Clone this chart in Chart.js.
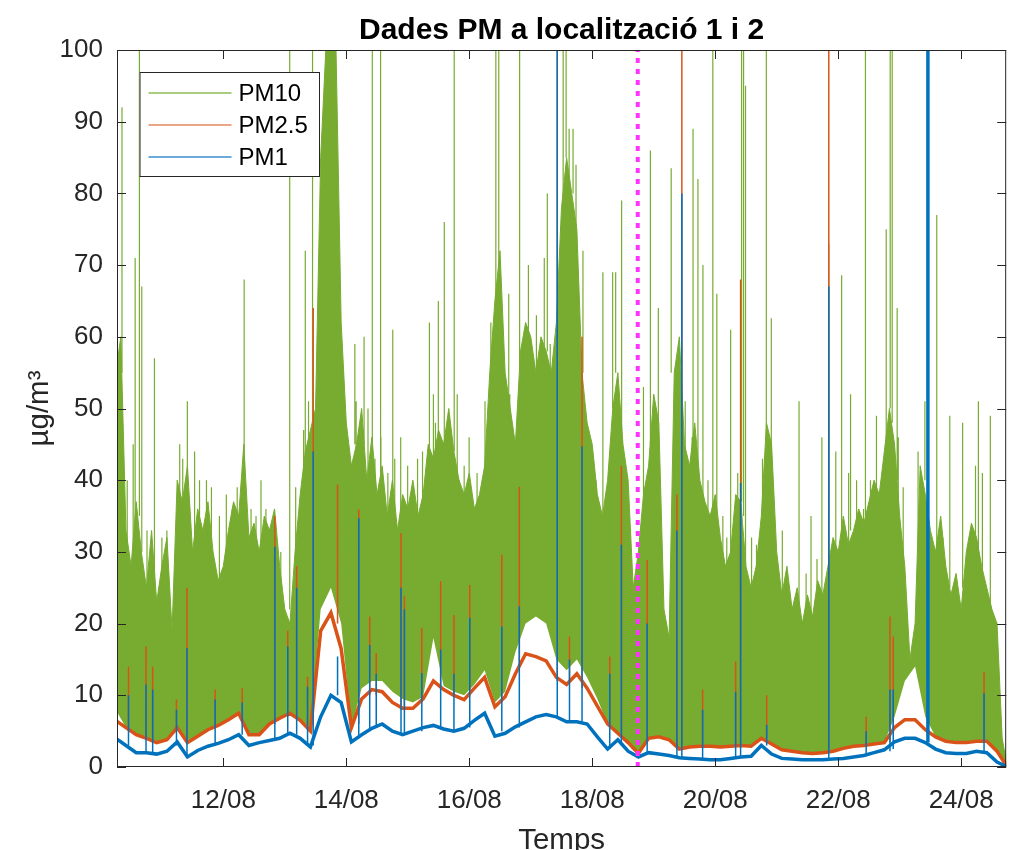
<!DOCTYPE html>
<html>
<head>
<meta charset="utf-8">
<title>Dades PM a localització 1 i 2</title>
<script src="https://cdn.jsdelivr.net/npm/chart.js@4.4.1/dist/chart.umd.min.js"></script>
<style>
  html, body { margin: 0; padding: 0; background: #fff; }
  #wrap { width: 1012px; height: 850px; }
</style>
</head>
<body>
<div id="wrap"><canvas id="pmChart" width="1012" height="850"></canvas></div>
<script>
// Eix temporal en dies d'agost (10.25 = 10/08 a les 06:00)
const startDay = 10.25;
const stepTop = 1 / 12;   // 2 h
const stepBase = 1 / 6;   // 4 h
const xMin = 10.271;
const xMax = 24.732;
const switchDay = 18.74;  // canvi de localització (línia magenta)

const tickDays = [12, 14, 16, 18, 20, 22, 24];
const tickLabels = ['12/08', '14/08', '16/08', '18/08', '20/08', '22/08', '24/08'];

// PM10: vora superior de la banda densa (cada 2 h)
const pm10Top = [
  55, 60, 33, 28, 37, 30, 25, 33, 23, 28, 32, 19,
  40, 37, 42, 30, 36, 33, 37, 30, 26, 28, 33, 37,
  35, 45, 32, 34, 30, 35, 33, 36, 28, 22, 20, 30,
  38, 44, 47, 50, 85, 100, 100, 100, 62, 48, 42, 45,
  50, 40, 46, 38, 42, 35, 40, 33, 38, 36, 40, 35,
  38, 45, 43, 47, 45, 50, 44, 40, 38, 41, 36, 38,
  42, 55, 65, 72, 55, 50, 45, 58, 62, 60, 55, 60,
  58, 55, 62, 78, 85, 80, 75, 55, 48, 45, 38, 35,
  40, 50, 55, 45, 40, 25, 30, 38, 42, 52, 48, 22,
  18, 55, 60, 45, 42, 48, 40, 37, 35, 38, 32, 28,
  30, 38, 37, 28, 25, 28, 35, 48, 45, 30, 24, 28,
  22, 25, 20, 24, 21, 26, 24, 28, 32, 30, 35, 31,
  33, 36, 34, 37, 40, 38, 44, 50, 45, 35, 28, 15,
  20, 42, 38, 33, 30, 35, 28, 24, 27, 22, 30, 34,
  32, 28, 25, 22, 20, 4, 0
];

// PM10: vora inferior de la banda (cada 4 h)
const pm10Low = [
  8, 5.5, 4.5, 4.0, 3.4, 3.8,
  5.5, 3.4, 4.3, 5.2, 5.8, 6.6,
  7.5, 4.5, 4.5, 6.0, 6.8, 7.5,
  6.5, 5.0, 22, 25, 20, 5.5,
  11, 12, 12, 10.5, 9.5, 9.0,
  9.8, 18, 11.3, 10.5, 10, 11.5,
  13.5, 9, 10.5, 16, 20, 21,
  20, 15, 13.5, 15, 12.5, 9.5,
  6.0, 4.7, 3.4, 1.9, 4.0, 4.2,
  3.8, 2.5, 2.8, 2.9, 2.9, 2.8,
  2.9, 3.0, 2.9, 4.0, 3.2, 2.4,
  2.2, 2.0, 1.9, 2.0, 2.2, 2.6,
  2.9, 3.0, 3.2, 3.4, 7, 12,
  14, 7, 4.2, 3.6, 3.4, 3.4,
  3.6, 3.6, 2.2, 0
];

// PM2.5 (cada 4 h)
const pm25 = [
  6.5, 5.5, 4.5, 4.0, 3.4, 3.8,
  5.5, 3.4, 4.3, 5.2, 5.8, 6.6,
  7.5, 4.5, 4.5, 6.0, 6.8, 7.5,
  6.5, 5.0, 19.0, 21.5, 16.5, 5.5,
  9.5, 10.8, 10.5, 9.0, 8.2, 8.2,
  9.5, 12.0, 10.8, 10.0, 9.4, 11.0,
  12.5, 8.4, 9.8, 13.0, 15.8, 15.4,
  14.8, 12.5, 11.5, 13.0, 11.0, 8.5,
  6.0, 4.7, 3.4, 1.9, 4.0, 4.2,
  3.8, 2.5, 2.8, 2.9, 2.9, 2.8,
  2.9, 3.0, 2.9, 4.0, 3.2, 2.4,
  2.2, 2.0, 1.9, 2.0, 2.2, 2.6,
  2.9, 3.0, 3.2, 3.4, 5.5, 6.6,
  6.6, 5.2, 4.2, 3.6, 3.4, 3.4,
  3.6, 3.6, 2.2, 0
];

// PM1 (cada 4 h)
const pm1 = [
  4.0, 3.0, 2.0, 2.0, 1.8, 2.2,
  3.5, 1.4, 2.3, 2.9, 3.3, 3.8,
  4.5, 3.0, 3.4, 3.7, 4.0, 4.7,
  4.0, 2.8, 7.0, 10.0, 9.0, 3.5,
  4.5, 5.4, 6.0, 5.0, 4.5, 5.0,
  5.5, 5.8, 5.3, 5.0, 5.4, 6.5,
  7.5, 4.3, 4.7, 5.6, 6.3, 7.0,
  7.3, 7.0, 6.3, 6.3, 6.0, 4.2,
  2.5, 3.8, 2.2, 1.4, 2.0, 1.8,
  1.6, 1.3, 1.2, 1.1, 1.0, 1.0,
  1.2, 1.4, 1.5, 3.0, 1.8, 1.2,
  1.1, 1.0, 1.0, 1.0, 1.1, 1.2,
  1.4, 1.6, 2.0, 2.4, 3.5, 4.0,
  4.0, 3.4, 2.5, 2.0, 1.9, 1.9,
  2.2, 2.0, 0.7, 0
];

// Pics aïllats: [dia, des de, fins a]
const pm10Spikes = [
  [10.352, 55, 92], [10.437, 20, 40], [10.534, 20, 45], [10.566, 30, 71],
  [10.635, 35, 100], [10.674, 30, 67], [10.759, 20, 33], [10.880, 25, 57],
  [11.001, 20, 32], [11.082, 20, 33], [11.291, 25, 45], [11.340, 25, 43],
  [11.415, 40, 51], [11.533, 25, 44], [11.613, 25, 40], [11.726, 25, 40],
  [11.807, 25, 39], [11.936, 20, 35], [12.049, 20, 38], [12.145, 25, 36],
  [12.226, 25, 39], [12.339, 40, 68], [12.451, 20, 36], [12.532, 20, 35],
  [12.613, 20, 40], [12.693, 20, 36], [12.790, 20, 33], [12.935, 20, 30],
  [13.080, 22, 100], [13.177, 20, 39], [13.306, 25, 47], [13.333, 40, 72],
  [13.386, 30, 51], [13.451, 45, 100], [14.031, 30, 43], [14.139, 45, 59],
  [14.160, 30, 51], [14.272, 30, 47], [14.289, 45, 60], [14.353, 30, 50],
  [14.423, 45, 100], [14.466, 30, 43], [14.558, 40, 100], [14.563, 30, 46],
  [14.676, 30, 41], [14.756, 35, 61], [14.788, 30, 43], [14.885, 30, 46],
  [14.998, 30, 42], [15.079, 25, 39], [15.159, 25, 43], [15.240, 25, 44],
  [15.352, 43, 62], [15.417, 43, 52], [15.450, 30, 48], [15.497, 45, 65],
  [15.594, 45, 76], [15.675, 30, 48], [15.755, 44, 100], [15.804, 40, 52],
  [15.836, 30, 40], [15.917, 30, 42], [15.998, 30, 46], [16.127, 30, 41],
  [16.207, 30, 37], [16.256, 30, 51], [16.351, 50, 62], [16.432, 65, 100],
  [16.480, 70, 100], [16.642, 50, 66], [16.659, 35, 52], [16.819, 55, 100],
  [16.962, 60, 70], [17.092, 55, 63], [17.220, 58, 71], [17.269, 58, 80],
  [17.317, 55, 59], [17.527, 78, 100], [17.575, 85, 100], [17.624, 80, 89],
  [17.688, 80, 89], [17.736, 75, 84], [17.849, 55, 72], [17.900, 30, 47],
  [17.981, 25, 35], [18.061, 25, 40], [18.173, 35, 69], [18.271, 25, 41],
  [18.332, 50, 69], [18.381, 55, 69], [18.478, 45, 79], [18.593, 20, 35],
  [18.833, 38, 53], [18.946, 45, 86], [18.980, 30, 46], [19.075, 48, 64],
  [19.284, 55, 83.5], [19.350, 30, 43], [19.512, 30, 51], [19.624, 30, 46],
  [19.639, 45, 89], [19.719, 40, 82], [19.800, 37, 70], [19.882, 25, 40],
  [19.961, 35, 100], [20.026, 35, 66], [20.124, 20, 35], [20.188, 20, 32],
  [20.251, 30, 61], [20.366, 25, 41], [20.429, 37, 100], [20.461, 35, 100],
  [20.493, 28, 95], [20.591, 20, 32], [20.672, 20, 31], [20.769, 25, 43],
  [20.831, 45, 100], [20.912, 40, 62.6], [21.091, 20, 33], [21.171, 20, 26],
  [21.363, 22, 51], [21.478, 20, 27], [21.558, 20, 35], [21.655, 20, 29],
  [21.735, 20, 46], [21.847, 28, 73], [21.961, 25, 44], [22.056, 30, 68.6],
  [22.170, 25, 41], [22.201, 33, 52], [22.299, 25, 40], [22.412, 25, 36],
  [22.443, 35, 100], [22.525, 25, 40], [22.622, 30, 49], [22.781, 40, 75],
  [22.846, 50, 100], [22.878, 48, 100], [22.959, 40, 64], [22.977, 30, 46],
  [23.057, 25, 39], [23.299, 30, 44], [23.410, 40, 51], [23.603, 30, 77],
  [23.702, 25, 32], [23.815, 25, 49], [24.024, 25, 48], [24.233, 25, 42],
  [24.280, 28, 51], [24.345, 25, 41], [24.474, 20, 49]
];

const pm25Spikes = [
  [10.458, 5, 14], [10.743, 4, 16.8], [10.851, 4, 14], [11.238, 5, 9.4],
  [11.409, 3.5, 25], [11.867, 5.5, 10.8], [12.307, 7.5, 11], [12.838, 6, 35],
  [13.048, 7, 19], [13.193, 7, 28], [13.370, 6, 12.6], [13.462, 6, 64],
  [13.858, 20, 39.4], [14.203, 6, 35.9], [14.381, 10, 21], [14.487, 10, 15.9],
  [14.890, 8, 32.6], [14.945, 8, 23.8], [15.228, 9, 19.4], [15.535, 11, 25.9],
  [15.751, 10, 21.2], [16.008, 10, 25.4], [16.529, 9, 29.6], [16.814, 14, 39.1],
  [17.431, 12, 100], [17.630, 12, 18.2], [17.834, 11, 60], [18.285, 6, 15.4],
  [18.474, 5, 42], [18.893, 4, 28.9], [19.377, 3, 38], [19.457, 3, 100],
  [19.795, 3, 10.8], [20.332, 3, 14.7], [20.413, 3, 68], [20.837, 4, 10],
  [21.847, 2, 100], [22.455, 3, 7], [22.842, 3.5, 21], [22.895, 5, 18.2],
  [23.459, 6, 100], [24.372, 3.6, 13.3]
];

const pm1Spikes = [
  [10.458, 3, 10], [10.743, 2, 11.5], [10.851, 2, 10.8], [11.238, 3, 8],
  [11.409, 1.5, 16.6], [11.867, 3, 9.4], [12.307, 4.5, 9], [12.838, 4, 30.7],
  [13.048, 4.5, 16.8], [13.193, 4.5, 25], [13.370, 3, 11.2], [13.462, 3, 44],
  [13.858, 10, 15.4], [14.203, 4, 34.7], [14.381, 5, 17], [14.487, 5.5, 13],
  [14.890, 4.5, 25], [14.945, 4.5, 22], [15.228, 5, 13.1], [15.535, 5.5, 16.4],
  [15.751, 5, 13], [16.008, 5.5, 20.8], [16.529, 5, 19.6], [16.814, 5.5, 22.4],
  [17.431, 7, 100], [17.630, 6.5, 15], [17.834, 6, 44.7], [18.285, 2.5, 13],
  [18.474, 3, 31], [18.893, 2, 20], [19.377, 1.3, 33], [19.457, 1.2, 80],
  [19.795, 1.1, 8], [20.332, 1.2, 10.5], [20.413, 1.3, 39.6], [20.837, 3, 5.9],
  [21.847, 1, 67], [22.455, 1.5, 5], [22.842, 2.2, 10.8], [22.895, 2.5, 10.8],
  [23.443, 3.5, 100], [23.459, 3.4, 100], [23.475, 3.4, 100], [24.372, 2, 10.3]
];

const green = '#77ac30';
const orange = '#d95319';
const blue = '#0072bd';
const magenta = '#ff33ff';
const axisColor = '#262626';
const fontFamily = "'Liberation Sans', Arial, Helvetica, sans-serif";

// sèrie regular -> punts {x, y}
function seq(vals, step) {
    return vals.map((v, i) => ({ x: startDay + i * step, y: v }));
}

// pics -> segments verticals separats per buits
function bars(spikes) {
    const pts = [];
    spikes.forEach(([d, a, b]) => {
        pts.push({ x: d, y: a }, { x: d, y: b }, { x: d, y: null });
    });
    return pts;
}

// Marc de la gràfica amb marques cap a dins (estil MATLAB)
const framePlugin = {
    id: 'frame',
    afterDatasetsDraw(chart) {
        const { ctx, chartArea: a, scales } = chart;
        ctx.save();
        ctx.strokeStyle = axisColor;
        ctx.lineWidth = 1;
        ctx.strokeRect(a.left + 0.5, a.top + 0.5, a.right - a.left - 1, a.bottom - a.top - 1);
        ctx.beginPath();
        scales.x.ticks.forEach(t => {
            const px = Math.round(scales.x.getPixelForValue(t.value)) + 0.5;
            ctx.moveTo(px, a.bottom); ctx.lineTo(px, a.bottom - 9);
            ctx.moveTo(px, a.top); ctx.lineTo(px, a.top + 9);
        });
        scales.y.ticks.forEach(t => {
            const py = Math.round(scales.y.getPixelForValue(t.value)) + 0.5;
            ctx.moveTo(a.left, py); ctx.lineTo(a.left + 9, py);
            ctx.moveTo(a.right, py); ctx.lineTo(a.right - 9, py);
        });
        ctx.stroke();
        ctx.restore();
    }
};

// Llegenda dins de l'àrea de dibuix, a dalt a l'esquerra
const boxLegend = {
    id: 'boxLegend',
    afterDraw(chart) {
        const { ctx, chartArea: a } = chart;
        const items = chart.data.datasets.filter(d => d.legendColor);
        const x0 = a.left + 22.5, y0 = a.top + 22, w = 179.5, h = 104;
        ctx.save();
        ctx.fillStyle = '#fff';
        ctx.fillRect(x0, y0, w, h);
        ctx.strokeStyle = axisColor;
        ctx.lineWidth = 1;
        ctx.strokeRect(x0 + 0.5, y0 + 0.5, w, h);
        ctx.font = '24px ' + fontFamily;
        ctx.textBaseline = 'middle';
        items.forEach((d, i) => {
            const yy = Math.round(y0 + 21 + i * 32);
            ctx.beginPath();
            ctx.strokeStyle = d.legendColor;
            ctx.lineWidth = 1.6;
            ctx.moveTo(x0 + 9, yy);
            ctx.lineTo(x0 + 92, yy);
            ctx.stroke();
            ctx.fillStyle = '#000';
            ctx.fillText(d.label, x0 + 99, yy + 1.5);
        });
        ctx.restore();
    }
};

const ctx = document.getElementById('pmChart').getContext('2d');
const pmChart = new Chart(ctx, {
    type: 'line',
    data: {
        datasets: [
            { label: 'PM10 base', data: seq(pm10Low, stepBase), borderColor: 'rgba(0,0,0,0)', borderWidth: 1, fill: false, order: 10 },
            { label: 'PM10', data: seq(pm10Top, stepTop), borderColor: green, backgroundColor: green, borderWidth: 1, fill: '-1', order: 9, legendColor: '#8cbd55' },
            { label: 'PM10 pics', data: bars(pm10Spikes), borderColor: green, borderWidth: 1.2, fill: false, order: 8 },
            { label: 'PM2.5', data: seq(pm25, stepBase), borderColor: orange, borderWidth: 3.5, fill: false, order: 7, legendColor: '#e5885f' },
            { label: 'PM2.5 pics', data: bars(pm25Spikes), borderColor: orange, borderWidth: 1.5, fill: false, order: 6 },
            { label: 'PM1', data: seq(pm1, stepBase), borderColor: blue, borderWidth: 3.5, fill: false, order: 5, legendColor: '#3a8fd0' },
            { label: 'PM1 pics', data: bars(pm1Spikes), borderColor: blue, borderWidth: 1.5, fill: false, order: 4 },
            { label: 'canvi', data: [{ x: switchDay, y: 0 }, { x: switchDay, y: 100 }], borderColor: magenta, borderWidth: 4, borderDash: [5, 6], fill: false, order: 1 }
        ]
    },
    options: {
        responsive: false,
        animation: false,
        devicePixelRatio: 1,
        spanGaps: false,
        elements: {
            point: { radius: 0, hoverRadius: 0 },
            line: { tension: 0, borderCapStyle: 'butt' }
        },
        layout: { padding: { top: 0, right: -2, bottom: 0, left: 0 } },
        plugins: {
            legend: { display: false },
            tooltip: { enabled: false },
            title: {
                display: true,
                fullSize: false,
                text: 'Dades PM a localització 1 i 2',
                color: '#000',
                font: { family: fontFamily, size: 30, weight: 'bold', lineHeight: 1 },
                padding: { top: 16, bottom: 4 }
            }
        },
        scales: {
            x: {
                type: 'linear',
                min: xMin,
                max: xMax,
                afterFit: s => { s.height = 83; },
                afterBuildTicks: s => { s.ticks = tickDays.map(v => ({ value: v })); },
                grid: { display: false, drawTicks: false },
                border: { display: false },
                ticks: {
                    autoSkip: false,
                    maxRotation: 0,
                    padding: 18,
                    color: axisColor,
                    font: { family: fontFamily, size: 26 },
                    callback: (v, i) => tickLabels[i]
                },
                title: {
                    display: true,
                    text: 'Temps',
                    color: axisColor,
                    font: { family: fontFamily, size: 29.5, lineHeight: 0.62 },
                    padding: 0
                }
            },
            y: {
                min: 0,
                max: 100,
                afterFit: s => { s.width = 117; },
                grid: { display: false, drawTicks: false },
                border: { display: false },
                ticks: {
                    stepSize: 10,
                    padding: 14,
                    color: axisColor,
                    font: { family: fontFamily, size: 26 }
                },
                title: {
                    display: true,
                    text: 'µg/m³',
                    color: axisColor,
                    font: { family: fontFamily, size: 29.5, lineHeight: 1 },
                    padding: { top: 25, bottom: 0 }
                }
            }
        }
    },
    plugins: [framePlugin, boxLegend]
});
</script>
</body>
</html>
